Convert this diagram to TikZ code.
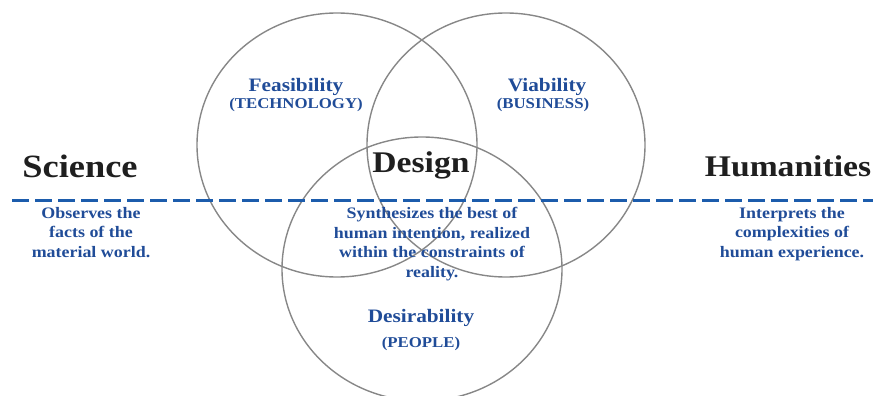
\documentclass[tikz,border=0pt]{standalone}
\usepackage{fontspec}
\setmainfont[FakeStretch=1.12]{Liberation Serif}
\usepackage{color}
\usetikzlibrary{arrows}
\definecolor{venngray}{RGB}{135,135,135}
\definecolor{textblue}{RGB}{32,76,152}
\definecolor{lineblue}{RGB}{28,92,172}

\begin{document}
\begin{tikzpicture}[x=1pt,y=-1pt,line cap=butt,line join=round,
    venn/.style={color=venngray,line width=1.4pt},
    heading/.style={anchor=base,inner sep=0pt,text=black!88,font=\bfseries\fontsize{30}{36}\selectfont},
    circlename/.style={anchor=base,inner sep=0pt,text=textblue,font=\bfseries\fontsize{19}{22}\selectfont},
    circlesub/.style={anchor=base,inner sep=0pt,text=textblue,font=\bfseries\fontsize{15}{18}\selectfont},
    blurb/.style={anchor=base,inner sep=0pt,align=center,text=textblue,font=\bfseries\fontsize{16}{19.5}\selectfont}]
        \useasboundingbox (0,0) rectangle (873,396);
        \clip (0,0) rectangle (873,396);
        % the three circles
        \draw[venn] (337,145) ellipse [x radius=140,y radius=132];
        \draw[venn] (506,145) ellipse [x radius=139,y radius=132];
        \draw[venn] (422,269) ellipse [x radius=140,y radius=132];
        % science / humanities divide
        \draw[color=lineblue,line width=3pt,dash pattern=on 17pt off 6pt] (12,200) -- (873,200);
        \node[heading,font=\bfseries\fontsize{32.5}{36}\selectfont] (science) at (80,177) {Science};
        \node[heading] (design) at (421,172) {Design};
        \node[heading] (humanities) at (788,176) {Humanities};
        \node[circlename] (feasibility) at (296,92) {Feasibility};
        \node[circlesub] (technology) at (296,108) {(TECHNOLOGY)};
        \node[circlename] (viability) at (547,92) {Viability};
        \node[circlesub] (business) at (543,108) {(BUSINESS)};
        \node[circlename] (desirability) at (421,322) {Desirability};
        \node[circlesub] (people) at (421,347) {(PEOPLE)};
        % base anchor sits on the last line
        \node[blurb] (sciencetext) at (91,257) {Observes the\\facts of the\\material world.};
        \node[blurb] (designtext) at (432,277) {Synthesizes the best of\\human intention, realized\\within the constraints of\\reality.};
        \node[blurb] (humanitiestext) at (792,257) {Interprets the\\complexities of\\human experience.};
      \end{tikzpicture}
\end{document}
